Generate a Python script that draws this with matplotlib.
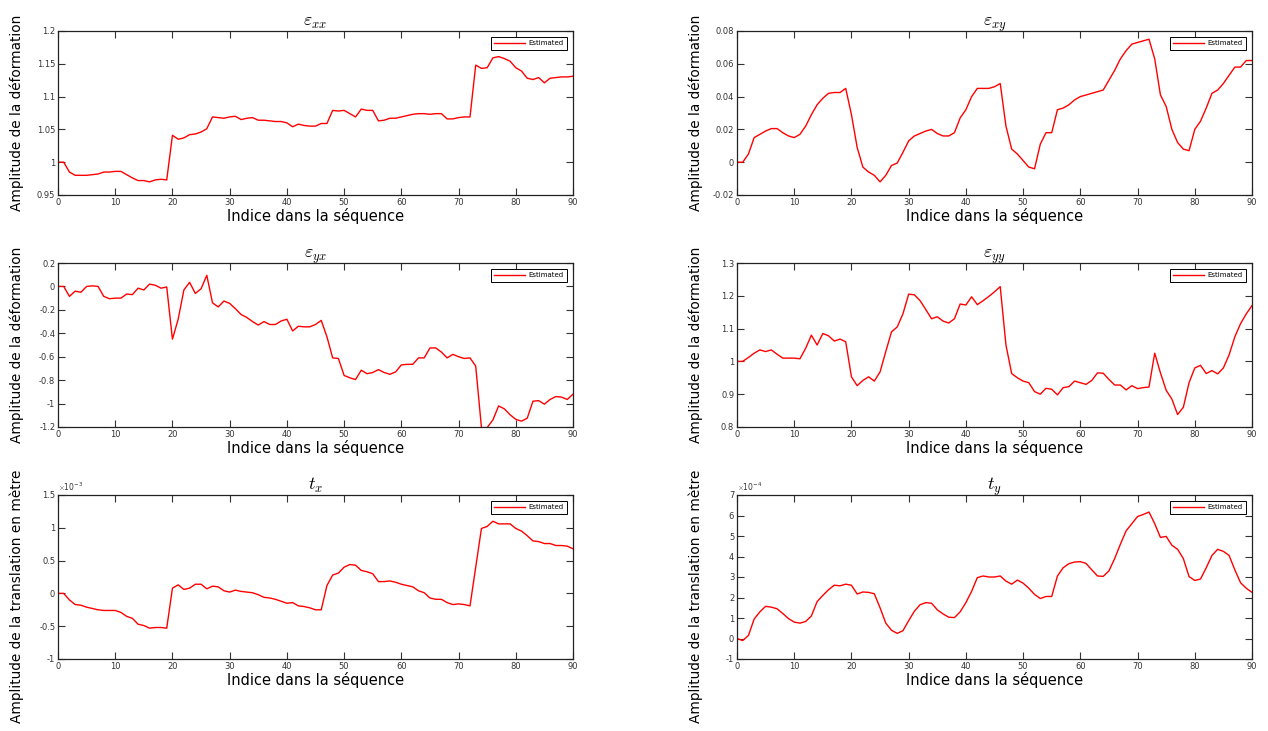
import numpy as np
import matplotlib
matplotlib.use("Agg")
import matplotlib.pyplot as plt
from matplotlib.ticker import FuncFormatter

plt.rcParams["axes.unicode_minus"] = False
plt.rcParams["font.family"] = "DejaVu Sans"
plt.rcParams["mathtext.fontset"] = "cm"

idx = np.arange(91)

# deformation components
exx = [1.000, 1.000, 0.985, 0.980, 0.980, 0.980, 0.981, 0.982, 0.985, 0.985,
       0.986, 0.986, 0.981, 0.976, 0.972, 0.972, 0.970, 0.973, 0.974, 0.973,
       1.041, 1.035, 1.037, 1.042, 1.043, 1.046, 1.051, 1.069, 1.068, 1.067,
       1.069, 1.070, 1.065, 1.067, 1.068, 1.064, 1.064, 1.063, 1.062, 1.062,
       1.060, 1.054, 1.058, 1.056, 1.055, 1.055, 1.059, 1.059, 1.079, 1.078,
       1.079, 1.074, 1.069, 1.081, 1.079, 1.079, 1.063, 1.064, 1.067, 1.067,
       1.069, 1.071, 1.073, 1.074, 1.074, 1.073, 1.074, 1.074, 1.066, 1.066,
       1.068, 1.069, 1.069, 1.148, 1.143, 1.144, 1.159, 1.161, 1.158, 1.154,
       1.144, 1.139, 1.128, 1.126, 1.129, 1.121, 1.128, 1.129, 1.130, 1.130,
       1.131]

exy = [0.000, 0.000, 0.005, 0.015, 0.017, 0.019, 0.0205, 0.0205, 0.018, 0.016,
       0.015, 0.017, 0.022, 0.029, 0.035, 0.039, 0.042, 0.0425, 0.0425, 0.045,
       0.029, 0.009, -0.003, -0.006, -0.008, -0.012, -0.008, -0.002, -0.0005, 0.006,
       0.013, 0.016, 0.0175, 0.019, 0.020, 0.0175, 0.016, 0.016, 0.018, 0.027,
       0.032, 0.040, 0.045, 0.045, 0.045, 0.046, 0.048, 0.022, 0.008, 0.005,
       0.001, -0.003, -0.004, 0.011, 0.018, 0.018, 0.032, 0.033, 0.035, 0.038,
       0.040, 0.041, 0.042, 0.043, 0.044, 0.050, 0.056, 0.063, 0.068, 0.072,
       0.073, 0.074, 0.075, 0.063, 0.041, 0.034, 0.020, 0.012, 0.008, 0.007,
       0.020, 0.025, 0.033, 0.042, 0.044, 0.048, 0.053, 0.058, 0.058, 0.062,
       0.062]

eyx = [0.000, 0.000, -0.085, -0.040, -0.050, 0.000, 0.005, 0.000, -0.085, -0.105,
       -0.100, -0.100, -0.065, -0.070, -0.015, -0.030, 0.020, 0.010, -0.015, -0.005,
       -0.450, -0.280, -0.030, 0.035, -0.060, -0.020, 0.095, -0.140, -0.175, -0.125,
       -0.145, -0.190, -0.240, -0.265, -0.300, -0.330, -0.300, -0.325, -0.325, -0.295,
       -0.280, -0.380, -0.340, -0.345, -0.345, -0.325, -0.290, -0.430, -0.610, -0.615,
       -0.760, -0.780, -0.795, -0.715, -0.745, -0.735, -0.710, -0.735, -0.750, -0.730,
       -0.670, -0.665, -0.665, -0.610, -0.610, -0.525, -0.525, -0.560, -0.610, -0.580,
       -0.600, -0.615, -0.610, -0.680, -1.205, -1.205, -1.140, -1.020, -1.045, -1.095,
       -1.135, -1.150, -1.125, -0.980, -0.975, -1.005, -0.965, -0.940, -0.945, -0.965,
       -0.920]

eyy = [1.000, 1.000, 1.012, 1.025, 1.035, 1.030, 1.035, 1.022, 1.010, 1.010,
       1.010, 1.008, 1.040, 1.080, 1.050, 1.085, 1.078, 1.062, 1.068, 1.060,
       0.953, 0.926, 0.942, 0.953, 0.940, 0.968, 1.030, 1.090, 1.105, 1.145,
       1.205, 1.203, 1.185, 1.158, 1.130, 1.136, 1.123, 1.117, 1.130, 1.175,
       1.172, 1.197, 1.173, 1.185, 1.198, 1.212, 1.228, 1.050, 0.963, 0.950,
       0.940, 0.935, 0.908, 0.900, 0.918, 0.915, 0.898, 0.920, 0.923, 0.940,
       0.935, 0.930, 0.942, 0.965, 0.964, 0.945, 0.928, 0.928, 0.913, 0.926,
       0.917, 0.920, 0.922, 1.025, 0.965, 0.912, 0.885, 0.838, 0.860, 0.935,
       0.980, 0.988, 0.963, 0.972, 0.962, 0.980, 1.020, 1.075, 1.115, 1.145,
       1.170]

# translations, in units of 1e-3 (tx) and 1e-4 (ty)
tx_e3 = [0.00, 0.00, -0.10, -0.17, -0.18, -0.21, -0.23, -0.25, -0.26, -0.26,
         -0.26, -0.29, -0.35, -0.38, -0.47, -0.49, -0.53, -0.52, -0.52, -0.53,
         0.08, 0.13, 0.06, 0.08, 0.14, 0.14, 0.07, 0.11, 0.10, 0.04,
         0.02, 0.05, 0.03, 0.02, 0.01, -0.02, -0.06, -0.07, -0.09, -0.12,
         -0.15, -0.14, -0.19, -0.20, -0.22, -0.25, -0.25, 0.12, 0.28, 0.31,
         0.40, 0.44, 0.43, 0.35, 0.33, 0.30, 0.18, 0.18, 0.19, 0.17,
         0.14, 0.12, 0.10, 0.04, 0.01, -0.07, -0.09, -0.09, -0.14, -0.17,
         -0.16, -0.17, -0.19, 0.40, 0.99, 1.02, 1.10, 1.06, 1.06, 1.06,
         0.99, 0.95, 0.88, 0.80, 0.79, 0.76, 0.76, 0.73, 0.73, 0.72,
         0.68]

ty_e4 = [0.00, -0.10, 0.15, 0.95, 1.30, 1.57, 1.53, 1.45, 1.22, 0.97,
         0.80, 0.75, 0.83, 1.10, 1.80, 2.10, 2.38, 2.60, 2.57, 2.65,
         2.60, 2.17, 2.27, 2.25, 2.18, 1.50, 0.75, 0.40, 0.25, 0.38,
         0.87, 1.33, 1.65, 1.75, 1.72, 1.40, 1.20, 1.04, 1.02, 1.30,
         1.75, 2.30, 2.97, 3.05, 3.00, 3.00, 3.05, 2.80, 2.65, 2.85,
         2.70, 2.45, 2.15, 1.95, 2.05, 2.05, 3.05, 3.45, 3.65, 3.73,
         3.75, 3.66, 3.35, 3.05, 3.03, 3.30, 3.90, 4.60, 5.25, 5.60,
         5.95, 6.05, 6.17, 5.60, 4.93, 4.98, 4.55, 4.35, 3.90, 3.02,
         2.83, 2.90, 3.45, 4.05, 4.35, 4.25, 4.05, 3.35, 2.72, 2.45,
         2.25]

tx = np.array(tx_e3) * 1e-3
ty = np.array(ty_e4) * 1e-4

panels = [
    (exx, r"$\varepsilon_{xx}$", (0.95, 1.2), np.arange(0.95, 1.201, 0.05), 1, None),
    (exy, r"$\varepsilon_{xy}$", (-0.02, 0.08), np.arange(-0.02, 0.081, 0.02), 1, None),
    (eyx, r"$\varepsilon_{yx}$", (-1.2, 0.2), np.arange(-1.2, 0.21, 0.2), 1, None),
    (eyy, r"$\varepsilon_{yy}$", (0.8, 1.3), np.arange(0.8, 1.31, 0.1), 1, None),
    (tx, r"$t_x$", (-1e-3, 1.5e-3), np.arange(-1, 1.51, 0.5) * 1e-3, 1e3, "-3"),
    (ty, r"$t_y$", (-1e-4, 7e-4), np.arange(-1, 7.1, 1) * 1e-4, 1e4, "-4"),
]


def fmt(v, p, s=1):
    return f"{round(v * s, 6) + 0.0:g}"


W, H = 1268, 731
lefts = [58, 737]
bottoms = [195, 427, 659]
aw, ah = 515, 164

fig = plt.figure(figsize=(W / 100, H / 100), dpi=100)

for k, (vals, title, ylim, yticks, scale, expo) in enumerate(panels):
    r, c = divmod(k, 2)
    ax = fig.add_axes([lefts[c] / W, 1 - bottoms[r] / H, aw / W, ah / H])
    ax.plot(idx, vals, color="red", lw=1.0, label="Estimated")
    ax.set_xlim(0, 90)
    ax.set_ylim(*ylim)
    ax.set_xticks(range(0, 91, 10))
    ax.set_yticks(yticks)
    ax.yaxis.set_major_formatter(FuncFormatter(lambda v, p, s=scale: fmt(v, p, s)))
    ax.tick_params(direction="in", length=5, width=0.8, labelsize=6,
                   colors="#333333", top=True, right=True, pad=2)
    for sp in ax.spines.values():
        sp.set_linewidth(0.9)
        sp.set_color("#222222")
    ax.set_title(title, fontsize=13, pad=4)
    ax.set_xlabel("Indice dans la séquence", fontsize=10.5, labelpad=1)
    if r < 2:
        ax.set_ylabel("Amplitude de la déformation", fontsize=9.8)
        ax.yaxis.set_label_coords(-0.066, 0.5)
    else:
        ax.set_ylabel("Amplitude de la translation en mètre", fontsize=9.8)
        ax.yaxis.set_label_coords(-0.066, 0.385)
    if expo:
        ax.text(0.0, 1.012, r"$\times\mathregular{10^{%s}}$" % expo, transform=ax.transAxes,
                fontsize=5.5, color="#333333", ha="left", va="bottom")
    leg = ax.legend(loc="upper right", fontsize=5, fancybox=False, framealpha=1,
                    edgecolor="black", handlelength=4.5, borderaxespad=0.9,
                    borderpad=0.45, handletextpad=0.5)
    leg.get_frame().set_linewidth(0.7)

fig.savefig("out.png", dpi=100)
